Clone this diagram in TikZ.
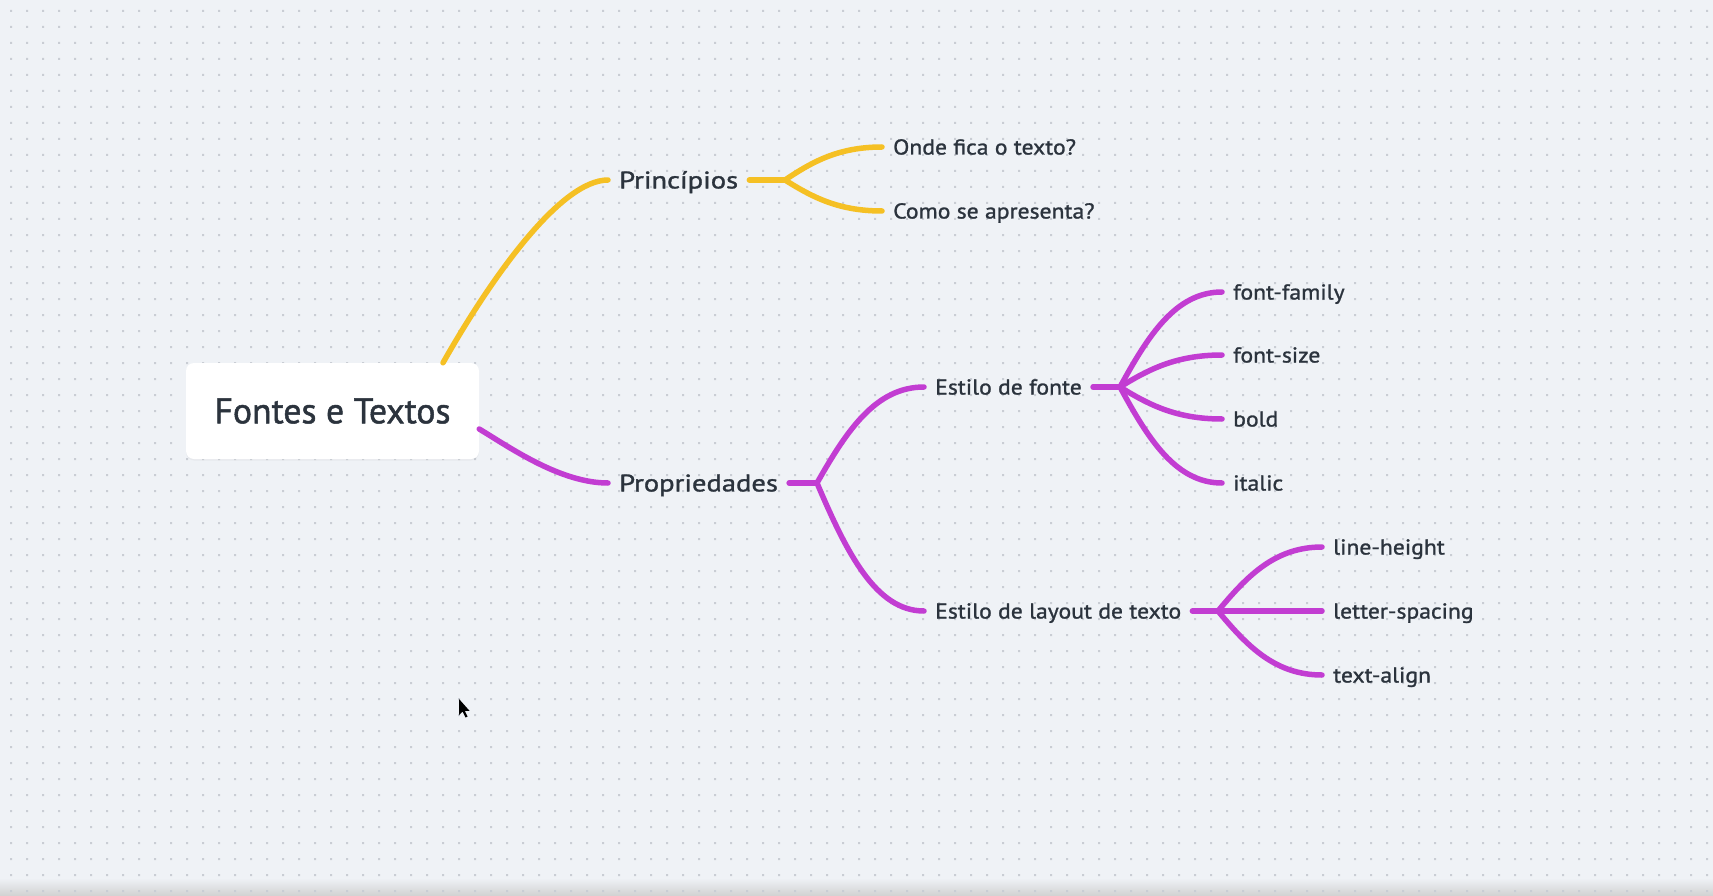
\documentclass[tikz,border=0pt]{standalone}
\usepackage{fontspec}
\setmainfont{PT Sans}
\newfontfamily\fontroot{PT Sans}[FakeBold=1.4]
\newfontfamily\fontone{PT Sans}[FakeStretch=1.19,FakeBold=1.3]
\newfontfamily\fonttwo{PT Sans}[FakeStretch=1.1,FakeBold=1.2]
\usetikzlibrary{calc,shadows}
\definecolor{bg}{HTML}{EFF2F6}
\definecolor{dotc}{HTML}{C9CDD4}
\definecolor{ink}{HTML}{2B333D}
\definecolor{yel}{HTML}{F5C024}
\definecolor{pur}{HTML}{C23DD2}
\newcommand\mmcurve[3]{%
  \draw[#1] let \p1=(#2), \p2=(#3) in (#2) .. controls ({\x1+0.28*(\x2-\x1)},{\y1+0.55*(\y2-\y1)}) and ({\x2-0.45*(\x2-\x1)},\y2) .. (#3);}
\begin{document}
\begin{tikzpicture}[x=1pt,y=-1pt,
  lvlone/.style={anchor=west, inner xsep=11pt, inner ysep=0pt, text height=16.8pt, text depth=0pt, text=ink, font=\fontone\fontsize{24}{28}\selectfont},
  lvltwo/.style={lvlone, text height=15pt, font=\fonttwo\fontsize{21.5}{25}\selectfont},
  rootbox/.style={fill=white, rounded corners=8pt, minimum width=293pt, minimum height=96pt, text=ink, inner sep=0pt, font=\fontroot\fontsize{35.7}{40}\selectfont, drop shadow={opacity=0.07, shadow xshift=0pt, shadow yshift=-1.5pt}},
  ylink/.style={draw=yel, line width=5.5pt, line cap=round},
  plink/.style={draw=pur, line width=5.5pt, line cap=round},
]
\useasboundingbox (0,0) rectangle (1713,896);
\fill[bg] (0,0) rectangle (1713,896);
\shade[top color=bg, bottom color=black!18] (0,878) rectangle (1713,896);
\foreach \j in {0,...,55} {
  \fill[dotc] \foreach \i in {0,...,106} { (10+16*\i, 10+16*\j) rectangle ++(2,2) };
}

% nodes
\node[rootbox] (root) at (332.5,411) {Fontes e Textos};
\node[lvlone] (princ) at (608,180) {Princípios};
\node[lvlone] (prop) at (608,483) {Propriedades};
\node[lvltwo] (onde) at (882,147) {Onde fica o texto?};
\node[lvltwo] (como) at (882,211) {Como se apresenta?};
\node[lvltwo] (estf) at (924,387) {Estilo de fonte};
\node[lvltwo] (estl) at (924,611) {Estilo de layout de texto};
\node[lvltwo] (ff) at (1222,292) {font-family};
\node[lvltwo] (fs) at (1222,355) {font-size};
\node[lvltwo] (bo) at (1222,419) {bold};
\node[lvltwo] (it) at (1222,483) {italic};
\node[lvltwo] (lh) at (1322,547) {line-height};
\node[lvltwo] (ls) at (1322,611) {letter-spacing};
\node[lvltwo] (ta) at (1322,675) {text-align};

% junctions and free ends
\coordinate (rY) at ($(root.north)+(110.5,0)$);
\coordinate (rP) at ($(root.east)+(0,18)$);
\coordinate (jP) at (785,180);
\coordinate (jR) at (817,483);
\coordinate (jF) at (1120,387);
\coordinate (jL) at (1218,611);

% root connectors
\draw[ylink] (rY) .. controls +(47,-83) and +(-48,0) .. (princ.west);
\draw[plink] (rP) .. controls +(30,18) and +(-48,0) .. (prop.west);

% Principios
\draw[ylink] (princ.east) -- (jP);
\mmcurve{ylink}{jP}{onde.west}
\mmcurve{ylink}{jP}{como.west}

% Propriedades
\draw[plink] (prop.east) -- (jR);
\mmcurve{plink}{jR}{estf.west}
\mmcurve{plink}{jR}{estl.west}

% Estilo de fonte
\draw[plink] (estf.east) -- (jF);
\mmcurve{plink}{jF}{ff.west}
\mmcurve{plink}{jF}{fs.west}
\mmcurve{plink}{jF}{bo.west}
\mmcurve{plink}{jF}{it.west}

% Estilo de layout
\draw[plink] (estl.east) -- (jL);
\mmcurve{plink}{jL}{lh.west}
\draw[plink] (jL) -- (ls.west);
\mmcurve{plink}{jL}{ta.west}

% mouse cursor
\fill[black] (459,699) -- (459,715) -- (462.5,711.5) -- (465.5,717.5) -- (467.5,716.5) -- (464.8,710.8) -- (469.5,710.8) -- cycle;
\end{tikzpicture}
\end{document}
